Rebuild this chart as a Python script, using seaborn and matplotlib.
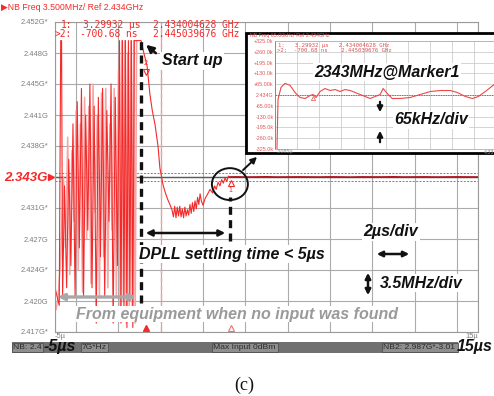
import numpy as np
import matplotlib
matplotlib.use("Agg")
import matplotlib.pyplot as plt
import matplotlib.transforms as mtransforms
from matplotlib.patches import Ellipse, Rectangle
import seaborn as sns

# ---------------- data ----------------
# main axis (time in us, frequency in GHz)
y_ticks_ghz = [2.4165, 2.4200, 2.4235, 2.4270, 2.4305, 2.4340, 2.4375, 2.4410, 2.4445, 2.4480, 2.4515]
y_tick_labels = ["2.417G*", "2.420G", "2.424G*", "2.427G", "2.431G*", "2.343G",
                 "2.438G*", "2.441G", "2.445G*", "2.448G", "2.452G*"]
x_tick_pos = [-5, -4, -2, 0, 2, 4, 6, 8, 10, 12, 14, 15]
x_tick_labels = ["-5\u00b5", "", "", "", "", "", "", "", "", "", "", "15\u00b5"]

ref_ghz = 2.4340
band_ghz = 0.00045
trigger_t = 0.0
startup_t = -0.93
settled_t = 3.27

# noisy trace before lock (red)
noise_t = [-5.00, -4.90, -4.80, -4.73, -4.69, -4.64,
           -4.55, -4.45, -4.35, -4.25, -4.15, -4.05, -3.95, -3.85, -3.75, -3.65,
           -3.55, -3.45, -3.35, -3.25, -3.15, -3.05, -2.95, -2.85, -2.75, -2.65,
           -2.55, -2.45, -2.35, -2.25, -2.15, -2.05, -1.95,
           -1.88, -1.81, -1.74, -1.67, -1.60, -1.53, -1.46, -1.39, -1.32, -1.25, -1.18,
           -1.05]
noise_f = [2.4215, 2.4205, 2.4195, 2.4494, 2.4494, 2.4205, 2.4330, 2.4215,
           2.4360, 2.4240, 2.4400, 2.4205, 2.4425, 2.4260, 2.4440, 2.4205,
           2.4410, 2.4280, 2.4445, 2.4215, 2.4420, 2.4175, 2.4430, 2.4250,
           2.4440, 2.4205, 2.4415, 2.4290, 2.4445, 2.4175, 2.4430, 2.4240,
           2.4494, 2.4175, 2.4494, 2.4190, 2.4494, 2.4170, 2.4494, 2.4200,
           2.4494, 2.4170, 2.4494, 2.4494, 2.4494]

# second, lighter noisy trace (pink)
pink_t = [-4.95, -4.85, -4.75,
          -4.60, -4.50, -4.40, -4.30, -4.20, -4.10, -4.00, -3.90, -3.80, -3.70,
          -3.60, -3.50, -3.40, -3.30, -3.20, -3.10, -3.00, -2.90, -2.80, -2.70,
          -2.60, -2.50, -2.40, -2.30, -2.20, -2.10, -2.00,
          -1.92, -1.84, -1.77, -1.70, -1.63, -1.56, -1.49, -1.42, -1.35, -1.28,
          -1.21, -1.14]
pink_f = [2.4190, 2.4205, 2.4240, 2.4340, 2.4260, 2.4385, 2.4230, 2.4370,
          2.4290, 2.4415, 2.4235, 2.4400, 2.4210, 2.4430, 2.4270, 2.4420,
          2.4220, 2.4445, 2.4300, 2.4410, 2.4205, 2.4435, 2.4250, 2.4440,
          2.4215, 2.4400, 2.4280, 2.4440, 2.4205, 2.4460, 2.4180, 2.4494,
          2.4200, 2.4494, 2.4175, 2.4480, 2.4190, 2.4494, 2.4185, 2.4494,
          2.4175, 2.4494]

# settling transient after start up
settle_t = [-0.93, -0.80, -0.65, -0.51, -0.40, -0.27, -0.13, -0.04,
            0.11, 0.22, 0.34, 0.45, 0.53, 0.60, 0.66, 0.72,
            0.78, 0.84, 0.90, 0.96, 1.02, 1.08, 1.14, 1.20,
            1.26, 1.32, 1.38, 1.44, 1.50, 1.56, 1.62, 1.68,
            1.74, 1.80, 1.86, 1.92, 2.00, 2.10, 2.20, 2.33,
            2.45, 2.55, 2.62, 2.71, 2.80, 2.88, 2.96, 3.04,
            3.12, 3.20, 3.27]
settle_f = [2.4494, 2.4480, 2.4466, 2.4433, 2.4415, 2.4399, 2.4375, 2.4350,
            2.4331, 2.4322, 2.4314, 2.4308, 2.4303, 2.4295, 2.4307, 2.4294,
            2.4306, 2.4296, 2.4307, 2.4295, 2.4304, 2.4294, 2.4306, 2.4296,
            2.4303, 2.4297, 2.4309, 2.4299, 2.4311, 2.4301, 2.4313, 2.4304,
            2.4317, 2.4309, 2.4321, 2.4313, 2.4308, 2.4316, 2.4320, 2.4326,
            2.4322, 2.4330, 2.4326, 2.4334, 2.4330, 2.4337, 2.4333, 2.4339,
            2.4335, 2.4341, 2.4340]

# locked (flat) part
flat_t = [3.27, 3.60, 4.00, 4.50, 5.00, 5.50, 6.00, 6.50, 7.00, 7.50, 8.00, 8.50,
          9.00, 9.50, 10.00, 10.50, 11.00, 11.50, 12.00, 12.50, 13.00, 13.50,
          14.00, 14.50, 15.00]
flat_f = [2.43400, 2.43401, 2.43399, 2.43400, 2.43402, 2.43399, 2.43400, 2.43401,
          2.43400, 2.43399, 2.43401, 2.43400, 2.43398, 2.43401, 2.43400, 2.43400,
          2.43402, 2.43399, 2.43400, 2.43401, 2.43399, 2.43400, 2.43401, 2.43400,
          2.43400]

# markers (1 and 2)
marker_t_us = [3.29932, -0.70068]
marker_f_ghz = [2.434004628, 2.445039676]

# inset (zoom around lock, kHz offset from 2.434 GHz)
inset_t = [3.096, 3.102, 3.119, 3.141, 3.170, 3.198, 3.226, 3.255,
           3.283, 3.300, 3.317, 3.339, 3.367, 3.396, 3.424, 3.452,
           3.480, 3.509, 3.537, 3.565, 3.593, 3.622, 3.650, 3.678,
           3.695, 3.718, 3.746, 3.791, 3.848, 3.904, 3.961, 4.017,
           4.074, 4.113, 4.158, 4.198, 4.232, 4.271, 4.322]
inset_khz = [-330, -27, 46, 70, 58, 15, -15, -21,
             -3, 3, -15, 21, 39, 27, 33, 21,
             33, 27, 15, 3, -9, -21, -9, 3,
             39, 9, -21, -21, -15, 3, 21, 27,
             27, 15, -9, -21, -9, 21, 64]
inset_y_ticks = [-325, -260, -195, -130, -65, 0, 65, 130, 195, 260, 325]
inset_y_labels = ["-325.0k", "-260.0k", "-195.0k", "-130.0k", "-65.00k", "2.434G",
                  "+65.00k", "+130.0k", "+195.0k", "+260.0k", "+325.0k"]
inset_x_grid = [3.085, 3.21, 3.335, 3.46, 3.585, 3.71, 3.835, 3.96, 4.085, 4.21]

status_boxes = [(12, 43, "NB: 2.4"), (81, 108, "7G*Hz"),
                (212, 278, "Max Input 0dBm"), (382, 458, "NB2: 2.987G*-3.01")]

# ---------------- style ----------------
sns.set_theme(style="white")
plt.rcParams['font.family'] = ['Liberation Sans', 'DejaVu Sans']

RED = '#f42a2a'
PINK = '#f7a5a5'
DARKRED = '#b0141e'
GRID = '#ababab'
TICK = '#7c7c7c'

W, H = 494, 396
fig = plt.figure(figsize=(W / 100, H / 100), dpi=100)
fig.patch.set_facecolor('white')


def fx(px):
    return px / W


def fy(py):
    return 1 - py / H


L, R, T, B = 55, 478, 22, 332
ax = fig.add_axes([fx(L), fy(B), (R - L) / W, (B - T) / H])


def axp(px, py):
    return ((px - L) / (R - L), (B - py) / (B - T))


# traces
sns.lineplot(x=pink_t, y=pink_f, ax=ax, color=PINK, lw=1.1, estimator=None,
             sort=False, legend=False)
sns.lineplot(x=noise_t + settle_t, y=noise_f + settle_f, ax=ax, color=RED, lw=0.8,
             estimator=None, sort=False, legend=False)
sns.lineplot(x=flat_t, y=flat_f, ax=ax, color=DARKRED, lw=1.2, estimator=None,
             sort=False, legend=False)

ax.set_xlim(-5, 15)
ax.set_ylim(y_ticks_ghz[0], y_ticks_ghz[-1])
ax.set_xticks(x_tick_pos)
ax.set_xticklabels(x_tick_labels)
ax.set_yticks(y_ticks_ghz)
ax.set_yticklabels(y_tick_labels)
ax.set_xlabel("")
ax.set_ylabel("")
ax.grid(True, color=GRID, lw=0.8)
ax.set_axisbelow(True)
ax.tick_params(length=0, labelsize=5.4, labelcolor=TICK)
ax.tick_params(axis='y', pad=5)
ax.tick_params(axis='x', pad=1)
xl = ax.get_xticklabels()
xl[0].set_ha('left')
xl[-1].set_ha('right')
for lab in ax.get_yticklabels():
    if lab.get_text() == "2.343G":
        lab.set(color=RED, fontweight='bold', fontstyle='italic', fontsize=9.5)
for s in ax.spines.values():
    s.set_color('#9a9a9a')
    s.set_linewidth(0.8)

ax.axhline(ref_ghz, color='#5a5a5a', lw=1.0, zorder=1.5)
for off in (-band_ghz, band_ghz):
    ax.axhline(ref_ghz + off, color='#f05050', lw=0.7, ls=(0, (2, 1.5)), zorder=1.6)
ax.axvline(trigger_t, color='#f4a0a0', lw=1.0, ls=(0, (4, 2)), zorder=1.4)

ax.plot([-0.009], [ref_ghz], marker='>', ms=4, color=RED,
        transform=ax.get_yaxis_transform(), clip_on=False)

# markers on the curve
up5 = mtransforms.offset_copy(ax.transData, fig=fig, x=0, y=5, units='points')
dn4 = mtransforms.offset_copy(ax.transData, fig=fig, x=0, y=-4, units='points')
ax.plot([marker_t_us[1]], [marker_f_ghz[1]], marker='v', ms=5, mfc='none', mec=RED,
        mew=0.8, transform=up5, zorder=5)
ax.text(marker_t_us[1], marker_f_ghz[1], "2", color=RED, fontsize=5, ha='right', va='center',
        transform=mtransforms.offset_copy(ax.transData, fig=fig, x=1, y=11, units='points'))
ax.plot([marker_t_us[0]], [marker_f_ghz[0]], marker='^', ms=5, mfc='none', mec=RED,
        mew=0.8, transform=dn4, zorder=5)
ax.text(marker_t_us[0], marker_f_ghz[0], "1", color=RED, fontsize=5, ha='center', va='center',
        transform=mtransforms.offset_copy(ax.transData, fig=fig, x=0, y=-10, units='points'))
xtr = ax.get_xaxis_transform()
ax.plot([marker_t_us[1]], [0.013], marker='^', ms=4.5, color=RED, transform=xtr, clip_on=False)
ax.plot([marker_t_us[0]], [0.013], marker='^', ms=4.5, mfc='white', mec='#f07070', mew=0.8,
        transform=xtr, clip_on=False)

# readouts
mono = dict(family='DejaVu Sans Mono', fontsize=6.9, color=RED, va='center', transform=ax.transAxes)
ax.text(*axp(72, 25), "1:", ha='right', **mono)
ax.text(*axp(83, 25), f"{marker_t_us[0]:.5f} \u00b5s", ha='left', **mono)
ax.text(*axp(153, 25), f"{marker_f_ghz[0]:.9f} GHz", ha='left', **mono)
ax.text(*axp(72, 34), ">2:", ha='right', **mono)
ax.text(*axp(80, 34), f"{marker_t_us[1] * 1000:.2f} ns", ha='left', **mono)
ax.text(*axp(153, 34), f"{marker_f_ghz[1]:.9f} GHz", ha='left', **mono)

# dashed timing lines
ax.axvline(startup_t, ymin=(B - 303) / (B - T), ymax=(B - 41) / (B - T), color='#111',
           lw=2.4, ls=(0, (2.4, 1.6)), zorder=4)
ax.axvline(settled_t, ymin=(B - 241) / (B - T), ymax=(B - 197) / (B - T), color='#111',
           lw=2.4, ls=(0, (2.4, 1.6)), zorder=4)

# annotations
ANN = dict(fontsize=11.5, fontweight='bold', fontstyle='italic', color='#111',
           ha='center', va='center', zorder=6, transform=ax.transAxes)
WB = dict(facecolor='white', edgecolor='none', pad=1.0)
ax.text(*axp(192, 61), "Start up", bbox=WB, **ANN)
ax.annotate('', xy=axp(144, 43), xytext=axp(158, 55), xycoords='axes fraction',
            textcoords='axes fraction',
            arrowprops=dict(arrowstyle='-|>', color='#111', lw=1.8, mutation_scale=11), zorder=6)
ax.text(*axp(232, 254), "DPLL settling time < 5\u00b5s", bbox=WB, **ANN)
ax.annotate('', xy=axp(143, 233), xytext=axp(228, 233), xycoords='axes fraction',
            textcoords='axes fraction',
            arrowprops=dict(arrowstyle='<|-|>', color='#111', lw=1.8, mutation_scale=9), zorder=6)
ax.text(*axp(391, 232), "2\u00b5s/div", bbox=WB, **ANN)
ax.annotate('', xy=axp(374, 254), xytext=axp(412, 254), xycoords='axes fraction',
            textcoords='axes fraction',
            arrowprops=dict(arrowstyle='<|-|>', color='#111', lw=1.8, mutation_scale=8), zorder=6)
ax.text(*axp(421, 283), "3.5MHz/div", bbox=WB, **ANN)
ax.annotate('', xy=axp(368, 270), xytext=axp(368, 298), xycoords='axes fraction',
            textcoords='axes fraction',
            arrowprops=dict(arrowstyle='<|-|>', color='#111', lw=1.8, mutation_scale=8), zorder=6)
gray_ann = dict(ANN)
gray_ann['color'] = '#9a9a9a'
ax.text(*axp(237, 314), "From equipment when no input was found",
        bbox=dict(facecolor='white', edgecolor='none', pad=0.3), **gray_ann)
ax.annotate('', xy=axp(55, 297), xytext=axp(139, 297), xycoords='axes fraction',
            textcoords='axes fraction',
            arrowprops=dict(arrowstyle='<|-|>', color='#a8a8a8', lw=2.4, mutation_scale=9), zorder=6)

ax.add_patch(Ellipse((marker_t_us[0] - 0.03, 2.4332), 1.70, 0.0036, fill=False,
                     edgecolor='#111', lw=1.4, zorder=6))
ax.annotate('', xy=axp(259, 155), xytext=axp(241, 172), xycoords='axes fraction',
            textcoords='axes fraction', annotation_clip=False,
            arrowprops=dict(arrowstyle='-|>', color='#111', lw=1.4, mutation_scale=9), zorder=6)

# header
fig.text(fx(1), fy(8), "\u25b6NB Freq 3.500MHz/ Ref 2.434GHz", color=RED, fontsize=6.3,
         ha='left', va='center')

# ---------------- inset ----------------
frame = Rectangle((fx(246), fy(153)), (505 - 246) / W, (153 - 33) / H, transform=fig.transFigure,
                  facecolor='white', edgecolor='black', lw=2.0, zorder=2)
fig.add_artist(frame)
IL, IR, IT, IB = 275, 494, 41, 149
iax = fig.add_axes([fx(IL), fy(IB), (IR - IL) / W, (IB - IT) / H])
iax.set_zorder(3)


def inp(px, py):
    return ((px - IL) / (IR - IL), (IB - py) / (IB - IT))


sns.lineplot(x=inset_t, y=inset_khz, ax=iax, color='#ee4848', lw=0.8, estimator=None,
             sort=False, legend=False)
iax.set_xlim(3.085, 4.32)
iax.set_ylim(-325, 325)
iax.set_xticks(inset_x_grid)
iax.set_xticklabels([""] * len(inset_x_grid))
iax.set_yticks(inset_y_ticks)
iax.set_yticklabels(inset_y_labels)
iax.set_xlabel("")
iax.set_ylabel("")
iax.grid(True, color='#c4c4c4', lw=0.5)
iax.set_axisbelow(True)
iax.tick_params(length=0, pad=1, labelsize=3.9, labelcolor='#e05555')
for s in iax.spines.values():
    s.set_color('#b0b0b0')
    s.set_linewidth(0.6)
iax.spines['left'].set_color('#e85050')
iax.spines['right'].set_visible(False)
iax.axhline(0, color='#777777', lw=0.7, ls=(0, (1.5, 1)), zorder=1.5)
iax.plot([marker_t_us[0]], [0], marker='^', ms=3, mfc='none', mec='#e05050', mew=0.5,
         transform=mtransforms.offset_copy(iax.transData, fig=fig, x=0, y=-2, units='points'))

imono = dict(family='DejaVu Sans Mono', fontsize=4.1, color='#e05050', va='center',
             ha='left', transform=iax.transAxes)
iax.text(*inp(278, 45), f"1:   {marker_t_us[0]:.5f} \u00b5s   {marker_f_ghz[0]:.9f} GHz", **imono)
iax.text(*inp(277, 51), f">2:  {marker_t_us[1] * 1000:.2f} ns    {marker_f_ghz[1]:.9f} GHz", **imono)
iax.text(*inp(277, 152), "3.085\u00b5", fontsize=3.8, color='#888', ha='left', va='center',
         transform=iax.transAxes, clip_on=False)
iax.text(*inp(494, 152), "4.33", fontsize=3.8, color='#888', ha='right', va='center',
         transform=iax.transAxes, clip_on=False)
fig.text(fx(250), fy(36), "NB Freq 65.00kHz/ Ref 2.434GHz", color='#e05050', fontsize=3.8,
         ha='left', va='center', zorder=4)

IANN = dict(ANN)
IANN['transform'] = iax.transAxes
iax.text(*inp(387, 72), "2343MHz@Marker1", bbox=WB, **IANN)
iax.text(*inp(431, 120), "65kHz/div", bbox=WB, **IANN)
iax.annotate('', xy=inp(380, 115), xytext=inp(380, 99), xycoords='axes fraction',
             textcoords='axes fraction',
             arrowprops=dict(arrowstyle='-|>', color='#111', lw=1.6, mutation_scale=8))
iax.annotate('', xy=inp(380, 128), xytext=inp(380, 145), xycoords='axes fraction',
             textcoords='axes fraction',
             arrowprops=dict(arrowstyle='-|>', color='#111', lw=1.6, mutation_scale=8))

# ---------------- status bar ----------------
bar = Rectangle((fx(12), fy(353)), (458 - 12) / W, 11 / H, transform=fig.transFigure,
                facecolor='#707070', edgecolor='none', zorder=1)
fig.add_artist(bar)
for x0, x1, label in status_boxes:
    fig.add_artist(Rectangle((fx(x0), fy(352)), (x1 - x0) / W, 9 / H, transform=fig.transFigure,
                             facecolor='#8e8e8e', edgecolor='#505050', lw=0.6, zorder=2))
    fig.text(fx(x0 + 1), fy(347.5), label, fontsize=6.1, color='#2a2a2a', ha='left',
             va='center', zorder=3)
BIG = dict(fontsize=11.5, fontweight='bold', fontstyle='italic', color='#111',
           ha='center', va='center', zorder=4)
fig.text(fx(60), fy(347), "-5\u00b5s", **BIG)
fig.text(fx(475), fy(347), "15\u00b5s", **BIG)

fig.text(fx(244), fy(385), "(c)", family='Liberation Serif', fontsize=13, color='#111',
         ha='center', va='center')

fig.savefig("out.png", dpi=100, facecolor='white')
